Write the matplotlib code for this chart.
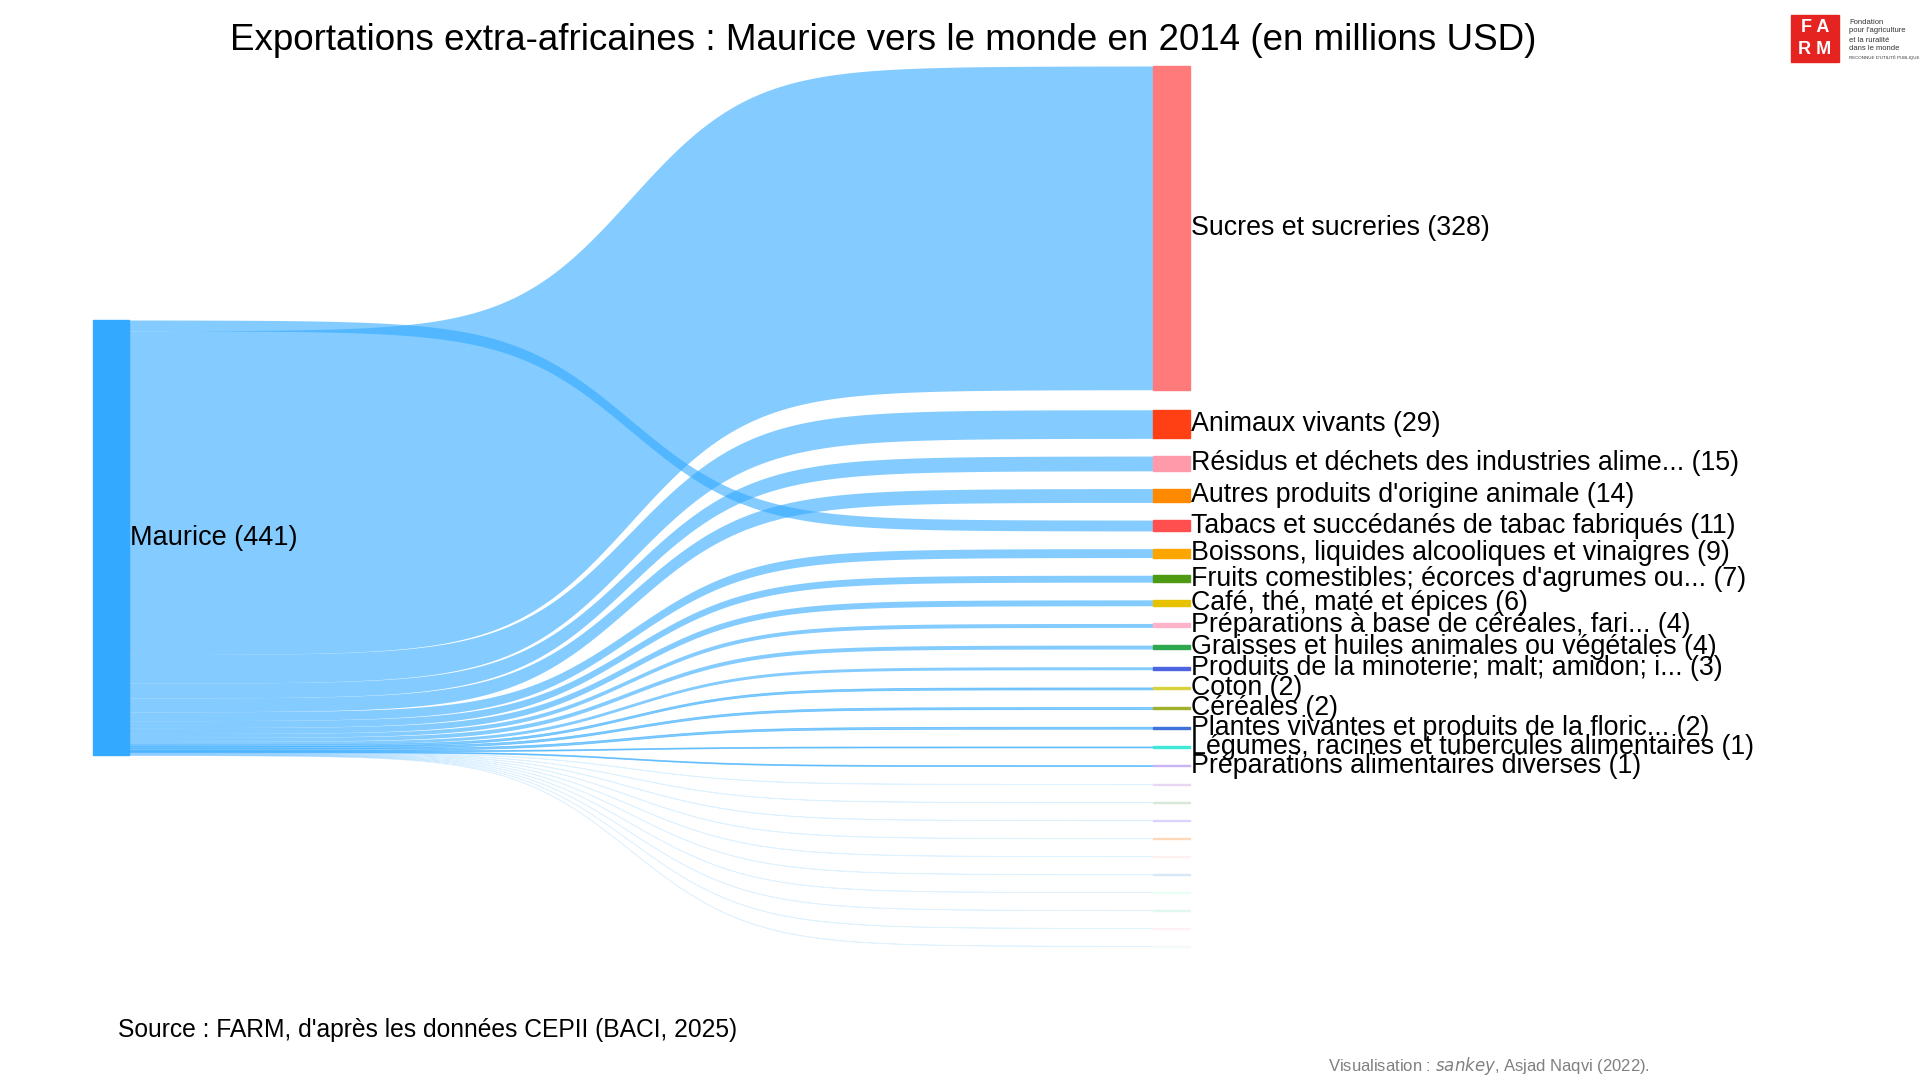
import numpy as np
import matplotlib
matplotlib.use("Agg")
import matplotlib.pyplot as plt
from matplotlib.patches import Rectangle

plt.rcParams['font.family'] = ['Liberation Sans', 'DejaVu Sans']

source_name = "Maurice"
source_value = 441
targets = ["Sucres et sucreries", "Animaux vivants", "Résidus et déchets des industries alime...",
           "Autres produits d'origine animale", "Tabacs et succédanés de tabac fabriqués",
           "Boissons, liquides alcooliques et vinaigres", "Fruits comestibles; écorces d'agrumes ou...",
           "Café, thé, maté et épices", "Préparations à base de céréales, fari...",
           "Graisses et huiles animales ou végétales", "Produits de la minoterie; malt; amidon; i...",
           "Coton", "Céréales", "Plantes vivantes et produits de la floric...",
           "Légumes, racines et tubercules alimentaires", "Préparations alimentaires diverses",
           "", "", "", "", "", "", "", "", "", ""]
values = [328, 29, 15, 14, 11, 9, 7, 6, 4, 4, 3, 2, 2, 2, 1, 1,
          0.4, 0.35, 0.35, 0.3, 0.3, 0.3, 0.25, 0.25, 0.2, 0.2]
labels = [str(round(v)) for v in values]
colors = ["#FF7B7B", "#FF4015", "#FF9AAA", "#FF8A00", "#FF4F4F", "#FFA500", "#4E9A12", "#E6C200",
          "#FFB3C8", "#2EA84E", "#4E63E0", "#D8D23A", "#A0B02A", "#4070D8", "#40E8D8", "#C8B4F4",
          "#E8D8F4", "#D8E8D8", "#DCD4FF", "#FFD8B8", "#FFF0F0", "#D8E8F4", "#E8FFF4", "#E0F8F0",
          "#FFF0F4", "#F4FAF8"]
left_order = [4, 0] + [i for i in range(1, len(values)) if i != 4]

W, H = 1920, 1080
fig = plt.figure(figsize=(19.2, 10.8), dpi=100)
ax = fig.add_axes([0, 0, 1, 1])
ax.set_xlim(0, W); ax.set_ylim(H, 0); ax.axis('off')

scale = 0.987
gap = 17.7
lx0, lx1 = 93, 129
rx0, rx1 = 1153, 1190
ltop = 320
rtop = 66

rpos = []
y = rtop
for i, v in enumerate(values):
    h = v * scale
    rpos.append((y, y + h))
    y += h + (20 if i == 0 else gap)

lpos = {}
y = ltop
for i in left_order:
    h = values[i] * scale
    lpos[i] = (y, y + h)
    y += h
lbot = y

xs = np.linspace(lx1, rx0, 300)
t = (xs - lx1) / (rx0 - lx1)
k, c = 17, 0.49
s = 1 / (1 + np.exp(-k * (t - c)))
s = (s - s[0]) / (s[-1] - s[0])

for i in left_order:
    a0, a1 = lpos[i]
    b0, b1 = rpos[i]
    top = a0 + (b0 - a0) * s
    bot = a1 + (b1 - a1) * s
    tiny = values[i] < 1
    ax.fill_between(xs, top, bot, color="#33AAFF", alpha=0.12 if tiny else 0.6,
                    linewidth=0.6 if values[i] < 3 else 0,
                    edgecolor="#33AAFF", zorder=1)

ax.add_patch(Rectangle((lx0, ltop), lx1 - lx0, lbot - ltop, color="#33AAFF", zorder=2))
ax.text(lx1 + 1, (ltop + lbot) / 2, f"{source_name} ({source_value})", fontsize=19.5,
        va='center', ha='left', zorder=3)

for i, v in enumerate(values):
    y0, y1 = rpos[i]
    ax.add_patch(Rectangle((rx0, y0), rx1 - rx0, max(y1 - y0, 1.2), color=colors[i], zorder=2))
    if targets[i]:
        ax.text(rx1 + 1, (y0 + y1) / 2, f"{targets[i]} ({labels[i]})", fontsize=19.3,
                va='center', ha='left', zorder=3)

ax.text(883, 40, "Exportations extra-africaines : Maurice vers le monde en 2014 (en millions USD)",
        fontsize=26.5, ha='center', va='center')
ax.text(118, 1030, "Source : FARM, d'après les données CEPII (BACI, 2025)", fontsize=17.7,
        ha='left', va='center')
ax.text(1650, 1066, "Visualisation : $\\it{sankey}$, Asjad Naqvi (2022).", fontsize=12,
        ha='right', va='center', color='#808080')

ax.add_patch(Rectangle((1791, 15), 48, 47, color="#E52421", zorder=2))
ax.text(1815, 28, "F A", color='white', fontsize=13, ha='center', va='center', weight='bold', zorder=3)
ax.text(1815, 49, "R M", color='white', fontsize=13, ha='center', va='center', weight='bold', zorder=3)
for j, line in enumerate(["Fondation", "pour l'agriculture", "et la ruralité", "dans le monde"]):
    ax.text(1849, 22 + j * 9, line, fontsize=5.5, ha='left', va='center', color='#333333')
ax.text(1849, 58, "RECONNUE D'UTILITÉ PUBLIQUE", fontsize=3.2, ha='left', va='center', color='#333333')

fig.savefig("out.png", dpi=100, facecolor='white')
